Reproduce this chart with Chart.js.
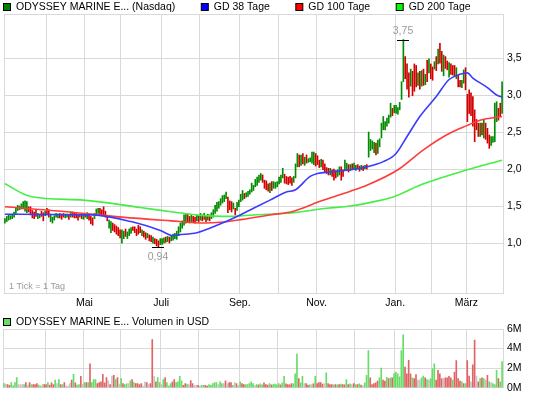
<!DOCTYPE html>
<html>
<head>
<meta charset="utf-8">
<script src="https://cdn.jsdelivr.net/npm/chart.js@4.4.1/dist/chart.umd.min.js"></script>
<style>
  html, body { margin: 0; padding: 0; background: #fff; }
  #wrap { position: relative; width: 545px; height: 398px; }
  #wrap canvas { position: absolute; left: 0; top: 0; }
</style>
</head>
<body>
<div id="wrap">
  <canvas id="priceChart" width="545" height="398"></canvas>
  <canvas id="volChart" width="545" height="398"></canvas>
</div>
<script>
// --- data (daily bars, index 0 = first trading day shown) ---
const seriesNames = ["ODYSSEY MARINE E... (Nasdaq)", "GD 38 Tage", "GD 100 Tage", "GD 200 Tage"];
const volumeTitle = "ODYSSEY MARINE E... Volumen in USD";
const tickNote = "1 Tick = 1 Tag";

// first trading day of each month (Apr .. Mär) and its label
const monthStarts = [23, 44, 64, 86, 107, 129, 150, 171, 192, 214, 234, 253];
const monthLabels = ["", "Mai", "", "Juli", "", "Sep.", "", "Nov.", "", "Jan.", "", "März"];
const priceTicks = [1.0, 1.5, 2.0, 2.5, 3.0, 3.5];
const volTicks = [0, 2, 4, 6];

const lows = [
  1.27,1.29,1.31,1.32,1.33,1.35,1.40,1.44,1.45,1.46,
  1.46,1.43,1.41,1.42,1.38,1.34,1.33,1.36,1.33,1.34,
  1.36,1.30,1.37,1.38,1.35,1.29,1.27,1.31,1.35,1.34,
  1.34,1.32,1.35,1.34,1.35,1.32,1.35,1.35,1.34,1.34,
  1.31,1.35,1.33,1.32,1.35,1.33,1.31,1.26,1.24,1.33,
  1.38,1.40,1.38,1.37,1.38,1.35,1.30,1.20,1.14,1.17,
  1.15,1.12,1.10,1.07,1.00,1.06,1.09,1.06,1.10,1.13,
  1.17,1.14,1.10,1.12,1.14,1.10,1.08,1.05,1.07,1.03,
  1.02,1.00,0.99,0.96,0.94,0.98,0.98,1.00,1.01,1.02,
  1.00,1.03,1.04,1.06,1.05,1.10,1.15,1.20,1.24,1.27,
  1.28,1.27,1.29,1.28,1.27,1.30,1.29,1.31,1.30,1.32,
  1.29,1.31,1.30,1.33,1.35,1.40,1.43,1.47,1.51,1.54,
  1.56,1.60,1.41,1.45,1.42,1.46,1.38,1.44,1.49,1.56,
  1.58,1.60,1.62,1.63,1.66,1.69,1.71,1.76,1.78,1.82,
  1.85,1.82,1.74,1.72,1.70,1.68,1.71,1.74,1.74,1.76,
  1.80,1.82,1.88,1.81,1.80,1.79,1.81,1.78,1.82,1.88,
  2.03,2.03,2.05,2.07,2.05,2.08,2.09,2.10,2.08,2.06,
  2.04,2.06,2.02,2.03,1.99,1.96,1.94,1.92,1.92,1.90,
  1.85,1.88,1.90,1.92,1.85,1.90,1.99,1.98,1.96,1.98,
  1.99,2.00,1.98,2.00,1.97,1.99,1.98,2.00,2.00,2.16,
  2.25,2.27,2.22,2.19,2.21,2.30,2.42,2.53,2.53,2.58,
  2.62,2.70,2.72,2.76,2.75,2.74,2.80,2.94,3.18,3.22,
  3.08,2.97,3.12,2.99,3.05,3.11,3.13,3.08,3.12,3.13,
  3.14,3.18,3.30,3.22,3.20,3.35,3.33,3.42,3.43,3.32,
  3.26,3.36,3.34,3.24,3.28,3.27,3.25,3.22,3.11,3.11,
  3.10,3.16,3.07,2.64,2.75,2.72,2.58,2.37,2.53,2.44,
  2.44,2.46,2.42,2.40,2.35,2.28,2.32,2.36,2.37,2.64,
  2.66,2.72,2.75
];
const highs = [
  1.33,1.36,1.38,1.37,1.39,1.42,1.47,1.51,1.50,1.53,
  1.56,1.57,1.56,1.49,1.49,1.44,1.42,1.45,1.40,1.39,
  1.43,1.41,1.43,1.47,1.45,1.39,1.35,1.37,1.40,1.39,
  1.40,1.39,1.40,1.39,1.39,1.38,1.42,1.42,1.41,1.40,
  1.39,1.39,1.38,1.40,1.40,1.41,1.39,1.36,1.34,1.40,
  1.46,1.47,1.47,1.45,1.49,1.43,1.37,1.31,1.29,1.27,
  1.25,1.23,1.21,1.18,1.18,1.16,1.19,1.15,1.19,1.21,
  1.22,1.22,1.19,1.24,1.22,1.18,1.16,1.14,1.13,1.11,
  1.10,1.08,1.06,1.05,1.03,1.06,1.06,1.07,1.08,1.09,
  1.08,1.10,1.12,1.13,1.16,1.22,1.27,1.30,1.38,1.40,
  1.39,1.36,1.38,1.36,1.35,1.38,1.37,1.40,1.38,1.40,
  1.37,1.39,1.38,1.41,1.45,1.51,1.55,1.56,1.60,1.64,
  1.65,1.69,1.62,1.57,1.56,1.54,1.47,1.55,1.58,1.66,
  1.71,1.67,1.68,1.70,1.72,1.81,1.78,1.86,1.89,1.92,
  1.94,1.92,1.85,1.84,1.80,1.81,1.83,1.83,1.82,1.83,
  1.89,1.92,2.01,1.93,1.90,1.89,1.90,1.88,1.90,2.07,
  2.21,2.19,2.19,2.21,2.16,2.19,2.14,2.15,2.23,2.23,
  2.21,2.18,2.12,2.13,2.12,2.07,2.02,2.01,2.01,1.99,
  2.00,1.98,1.99,2.03,2.03,1.99,2.12,2.08,2.06,2.06,
  2.07,2.08,2.05,2.06,2.04,2.05,2.04,2.05,2.06,2.50,
  2.40,2.38,2.36,2.35,2.39,2.41,2.62,2.71,2.64,2.69,
  2.73,2.89,2.82,2.86,2.86,2.83,2.90,3.18,3.75,3.52,
  3.42,3.30,3.35,3.32,3.42,3.40,3.30,3.32,3.33,3.35,
  3.28,3.47,3.49,3.42,3.38,3.45,3.52,3.62,3.70,3.59,
  3.54,3.52,3.46,3.44,3.42,3.40,3.40,3.37,3.27,3.20,
  3.20,3.34,3.37,3.01,3.07,3.03,2.98,2.80,2.67,2.62,
  2.62,2.62,2.67,2.62,2.55,2.46,2.44,2.44,2.89,2.91,
  2.82,2.89,3.18
];
// 1 = closed above open (green), 0 = closed below open (red)
const upDay = [
  1,1,1,1,1,1,1,1,1,1, 1,1,1,0,0,0,0,0,1,1, 0,0,1,0,0,1,1,1,1,1,
  0,0,0,1,1,0,1,0,0,0, 0,1,0,1,0,1,0,0,0,1, 1,1,0,0,0,0,0,1,1,0,
  0,0,0,0,1,1,0,1,1,1, 0,0,0,0,0,1,0,0,1,0, 0,1,0,0,0,1,1,1,0,1,
  0,1,1,1,1,1,1,1,1,1, 0,0,1,0,0,1,0,1,0,1, 0,1,0,1,1,1,1,1,1,1,
  1,1,0,0,0,1,0,1,1,1, 1,0,1,1,1,1,1,1,1,1, 1,0,0,0,0,1,0,1,1,1,
  1,1,1,0,0,0,0,0,1,1, 1,0,1,0,1,0,1,1,1,1, 0,0,0,1,0,0,0,0,1,0,
  0,0,1,1,0,0,1,1,0,1, 0,1,1,0,0,1,0,1,0,1, 1,1,1,0,1,1,1,1,1,1,
  1,1,0,1,1,1,1,1,1,0, 0,0,1,0,0,0,1,0,1,0, 1,0,1,0,0,1,0,1,0,0,
  1,0,0,1,0,0,0,1,0,0, 1,1,0,0,0,0,0,0,0,0, 1,0,1,0,0,0,1,1,1,1,
  0,0,1
];

// volume in millions of USD
const volumes = [
  0.43,0.37,0.33,0.23,0.53,0.2,0.53,1.03,0.33,0.33,
  0.33,0.33,0.53,0.23,0.53,0.33,0.33,0.33,0.43,0.27,
  0.17,0.33,0.33,0.33,0.53,0.27,0.5,0.33,0.77,0.43,
  0.83,0.33,0.33,0.53,0.17,0.17,0.43,0.77,1.37,0.5,
  0.27,0.33,1.17,0.33,0.53,0.53,0.53,2.43,0.53,0.83,
  0.83,0.43,0.53,0.6,1.37,0.5,1.03,0.7,0.33,1.2,
  1.27,0.83,1.03,0.37,0.93,0.43,0.33,0.4,0.43,0.7,
  0.83,0.53,0.43,0.43,0.33,0.43,0.17,0.6,0.53,0.33,
  0.43,4.93,1.17,0.6,1.03,0.53,0.33,0.83,1.03,0.53,
  0.2,0.43,0.6,0.83,0.53,0.6,1.17,0.7,0.23,0.43,
  0.37,0.33,0.73,0.43,0.23,0.23,0.23,0.17,0.23,0.23,
  0.23,0.17,0.33,0.23,0.43,0.53,0.53,0.33,0.6,0.43,
  0.43,0.7,0.43,0.53,0.53,0.23,0.53,0.43,0.23,0.6,
  0.43,0.33,0.33,0.33,0.43,0.6,0.43,0.23,0.33,0.3,
  0.4,0.3,0.5,0.33,0.27,0.43,0.3,0.33,0.37,0.3,
  0.43,0.3,0.5,1.17,0.4,0.33,0.3,0.43,0.4,1.43,
  3.43,0.93,0.5,1.17,0.43,0.43,0.27,0.3,0.33,0.4,
  1.17,0.43,0.53,0.53,0.37,0.43,1.53,0.43,0.33,0.33,
  0.3,0.33,0.3,0.33,0.37,0.33,0.3,0.83,0.33,0.4,
  0.33,0.43,0.33,0.33,0.4,0.27,0.2,0.5,1.27,3.8,
  1.0,0.33,0.43,0.5,0.67,1.0,2.0,0.77,0.67,1.07,
  0.93,1.0,1.0,1.43,1.6,1.43,1.1,3.8,5.4,2.1,
  1.43,2.8,1.43,1.0,0.93,1.33,0.77,0.77,1.0,1.2,
  1.0,0.83,0.77,0.93,1.93,2.43,0.77,1.77,1.43,0.93,
  0.93,1.0,1.0,1.17,1.0,0.77,1.6,2.77,0.93,0.67,
  0.6,0.43,0.43,2.77,1.2,0.6,2.33,4.87,1.2,0.6,
  0.93,1.0,0.93,0.77,1.27,0.6,0.53,0.43,0.33,1.77,
  0.93,0.6,2.67
];
// 1 = up, -1 = down, 0 = unchanged
const volTrend = [
  1,0,-1,-1,1,1,1,1,0,0, 0,1,-1,0,-1,1,-1,-1,-1,1, 1,0,-1,-1,1,-1,-1,-1,1,0,
  1,-1,1,-1,0,0,0,-1,1,-1, 1,1,-1,0,1,-1,1,-1,1,1, 1,-1,-1,-1,-1,-1,-1,0,-1,0,
  -1,1,-1,0,1,-1,1,1,0,1, -1,1,-1,-1,-1,-1,0,0,-1,0, -1,-1,0,-1,1,1,0,1,-1,1,
  1,1,-1,-1,1,1,1,1,-1,-1, 1,0,-1,-1,0,0,-1,0,1,1, -1,-1,1,1,1,1,1,0,1,1,
  0,-1,0,-1,-1,1,0,-1,0,1, -1,-1,1,1,1,1,1,0,1,-1, 1,1,-1,-1,-1,1,-1,1,1,1,
  1,-1,1,1,-1,-1,-1,-1,1,1, 1,-1,1,1,0,-1,-1,1,0,-1, 1,-1,-1,-1,-1,0,1,-1,-1,-1,
  1,-1,1,-1,1,-1,-1,1,-1,1, 0,-1,1,-1,1,-1,0,1,1,1, -1,-1,-1,-1,-1,1,1,-1,-1,1,
  -1,1,-1,1,1,1,1,1,1,-1, -1,-1,-1,1,-1,-1,0,0,1,1, -1,1,0,1,1,1,-1,-1,-1,-1,
  0,-1,-1,-1,-1,1,-1,-1,-1,-1, 1,-1,1,-1,-1,0,-1,-1,0,-1, 1,-1,1,0,-1,1,0,1,1,1,
  -1,1,1
];

// moving averages: [day index, value]
const gd38 = [[0,1.39],[48,1.38],[69,1.29],[85,1.17],[92,1.10],[95,1.11],[105,1.14],[111,1.19],
  [118,1.26],[127,1.36],[136,1.47],[145,1.58],[154,1.69],[159,1.72],[167,1.90],[171,1.94],[178,1.96],
  [189,1.99],[198,2.03],[207,2.10],[214,2.21],[220,2.44],[227,2.71],[236,2.98],[243,3.21],[249,3.28],
  [253,3.30],[256,3.23],[264,3.10],[269,3.00],[272,2.97]];
const gd100 = [[0,1.49],[31,1.43],[64,1.35],[91,1.30],[109,1.27],[118,1.28],[130,1.32],[145,1.38],
  [158,1.43],[172,1.56],[189,1.70],[198,1.78],[215,1.99],[229,2.26],[243,2.48],[253,2.59],[260,2.66],[272,2.71]];
const gd200 = [[0,1.80],[14,1.63],[43,1.58],[74,1.48],[92,1.42],[109,1.37],[123,1.36],[136,1.38],
  [158,1.41],[176,1.47],[189,1.50],[202,1.56],[212,1.62],[229,1.80],[253,1.99],[272,2.12]];

// --- styling ---
const FONT = '"Liberation Sans", Arial, sans-serif';
const GRID = '#d9d9d9';
const nDays = highs.length;

function dayTicks(scale) {
  const t = [{ value: -0.5 }];
  monthStarts.forEach(m => t.push({ value: m - 0.5 }));
  t.push({ value: nDays - 0.5 });
  scale.ticks = t;
}
function xAxis(showLabels) {
  return {
    type: 'linear', min: -0.5, max: nDays - 0.5, offset: false,
    afterBuildTicks: dayTicks,
    afterFit: s => { s.height = showLabels ? 22 : 0; },
    grid: { color: GRID, drawTicks: false, offset: false },
    border: { color: GRID },
    ticks: {
      display: showLabels, autoSkip: false, maxRotation: 0, padding: 4,
      color: '#000', font: { family: FONT, size: 10.5 },
      callback: (v, i) => (i > 0 && i <= monthLabels.length) ? monthLabels[i - 1] : ''
    }
  };
}

const topLegend = {
  id: 'topLegend',
  afterDraw(chart, args, opts) {
    const ctx = chart.ctx;
    ctx.save();
    ctx.font = '10.5px ' + FONT;
    ctx.textBaseline = 'middle';
    let x = 3.5;
    opts.items.forEach(it => {
      ctx.fillStyle = it.color;
      ctx.fillRect(x, opts.y - 3.5, 7, 7);
      ctx.strokeStyle = '#000';
      ctx.lineWidth = 1;
      ctx.strokeRect(x, opts.y - 3.5, 7, 7);
      ctx.fillStyle = '#000';
      ctx.fillText(it.text, x + 12.5, opts.y + 0.5);
      x += 12.5 + ctx.measureText(it.text).width + 26;
    });
    ctx.restore();
  }
};

const extremes = {
  id: 'extremes',
  afterDatasetsDraw(chart) {
    const { ctx, scales: { x, y }, chartArea } = chart;
    const hi = Math.max(...highs), lo = Math.min(...lows);
    const marks = [[highs.indexOf(hi), hi, -1], [lows.indexOf(lo), lo, 1]];
    ctx.save();
    ctx.font = '10.5px ' + FONT;
    ctx.textAlign = 'center';
    marks.forEach(([i, v, dir]) => {
      const px = Math.round(x.getPixelForValue(i));
      const py = Math.round(y.getPixelForValue(v)) + 0.5;
      ctx.strokeStyle = '#000';
      ctx.lineWidth = 1;
      ctx.beginPath();
      ctx.moveTo(px - 6, py); ctx.lineTo(px + 6, py);
      ctx.stroke();
      ctx.fillStyle = '#999';
      ctx.textBaseline = dir < 0 ? 'bottom' : 'top';
      ctx.fillText(v.toFixed(2).replace('.', ','), px, py + dir * 4);
    });
    ctx.fillStyle = '#999';
    ctx.textAlign = 'left';
    ctx.textBaseline = 'middle';
    ctx.font = '9px ' + FONT;
    ctx.fillText(tickNote, chartArea.left + 5, chartArea.bottom - 6);
    ctx.restore();
  }
};

const days = highs.map((_, i) => i);
const toPts = arr => arr.map(p => ({ x: p[0], y: p[1] }));

function maLine(pts, color, order) {
  return {
    type: 'line', data: toPts(pts), borderColor: color, borderWidth: 1.6,
    pointRadius: 0, cubicInterpolationMode: 'monotone', order: order
  };
}

new Chart(document.getElementById('priceChart'), {
  type: 'bar',
  data: {
    datasets: [
      {
        type: 'bar',
        data: days.map(i => ({ x: i, y: [lows[i], highs[i]] })),
        backgroundColor: days.map(i => upDay[i] ? '#008c00' : '#d40000'),
        barThickness: 1, grouped: false, order: 10
      },
      maLine(gd200, '#44ee44', 3),
      maLine(gd100, '#ff3b3b', 2),
      maLine(gd38, '#3b3bff', 1)
    ]
  },
  options: {
    responsive: false, animation: false, devicePixelRatio: 1,
    layout: { padding: { left: 3, top: 14, right: 0, bottom: 83 } },
    plugins: {
      legend: { display: false }, tooltip: { enabled: false },
      topLegend: {
        y: 7,
        items: [
          { text: seriesNames[0], color: '#008000' },
          { text: seriesNames[1], color: '#0000ff' },
          { text: seriesNames[2], color: '#ff0000' },
          { text: seriesNames[3], color: '#00ff00' }
        ]
      }
    },
    scales: {
      x: xAxis(true),
      y: {
        position: 'right', min: 0.325, max: 4.095,
        afterBuildTicks: s => {
          s.ticks = [{ value: s.min }].concat(priceTicks.map(v => ({ value: v })), [{ value: s.max }]);
        },
        afterFit: s => { s.width = 42; },
        grid: { color: GRID, drawTicks: false },
        border: { color: GRID },
        ticks: {
          padding: 4, color: '#000', font: { family: FONT, size: 10.5 },
          callback: v => priceTicks.some(t => Math.abs(t - v) < 1e-6) ? v.toFixed(1).replace('.', ',') : ''
        }
      }
    }
  },
  plugins: [topLegend, extremes]
});

new Chart(document.getElementById('volChart'), {
  type: 'bar',
  data: {
    datasets: [{
      data: days.map(i => ({ x: i, y: volumes[i] })),
      backgroundColor: days.map(i => volTrend[i] > 0 ? '#66dd66' : (volTrend[i] < 0 ? '#e06464' : '#c4c4c4')),
      barThickness: 1, grouped: false
    }]
  },
  options: {
    responsive: false, animation: false, devicePixelRatio: 1,
    layout: { padding: { left: 3, top: 329, right: 0, bottom: 9 } },
    plugins: {
      legend: { display: false }, tooltip: { enabled: false },
      topLegend: { y: 322, items: [{ text: volumeTitle, color: '#66dd66' }] }
    },
    scales: {
      x: xAxis(false),
      y: {
        position: 'right', min: 0, max: 6,
        afterBuildTicks: s => { s.ticks = volTicks.map(v => ({ value: v })); },
        afterFit: s => { s.width = 42; },
        grid: { color: GRID, drawTicks: false },
        border: { color: GRID },
        ticks: { padding: 4, color: '#000', font: { family: FONT, size: 10.5 }, callback: v => v + 'M' }
      }
    }
  },
  plugins: [topLegend]
});
</script>
</body>
</html>
